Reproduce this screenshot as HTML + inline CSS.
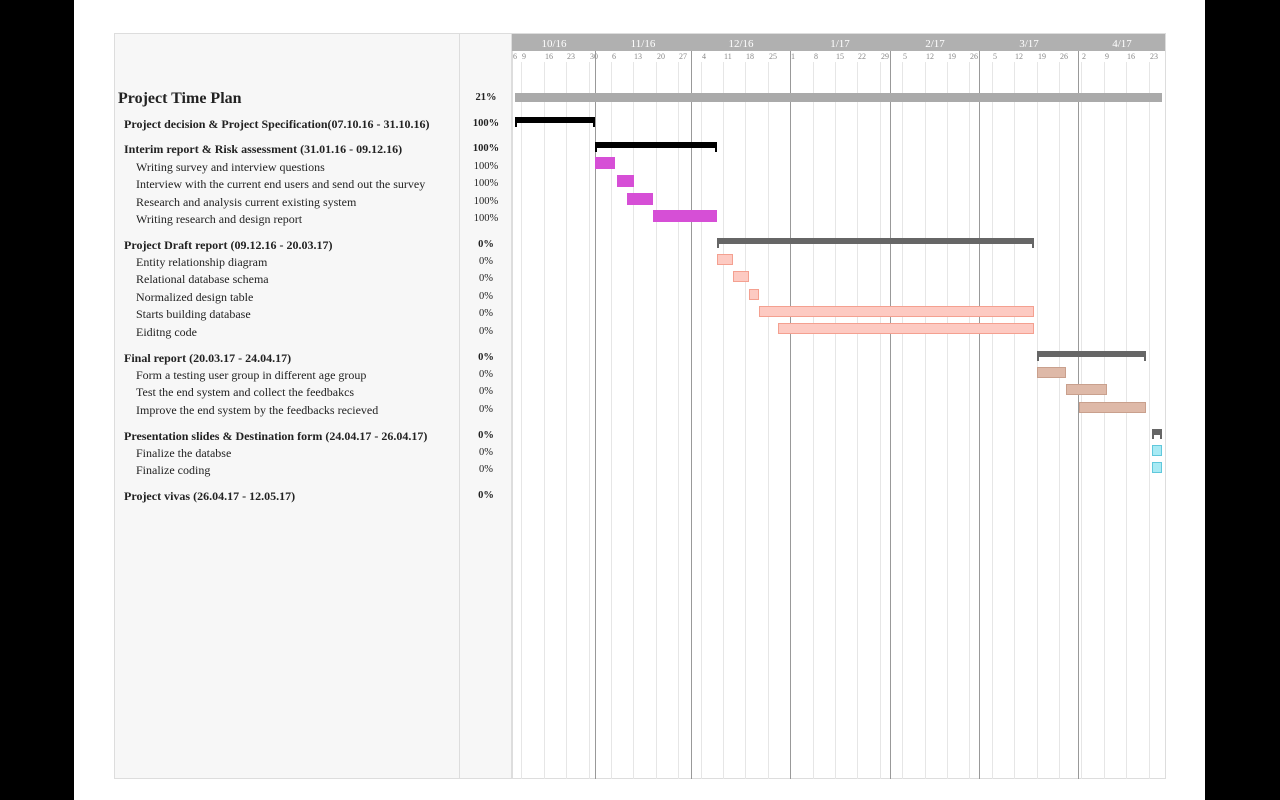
<!DOCTYPE html>
<html><head><meta charset="utf-8"><style>
body{margin:0;width:1280px;height:800px;background:#000;position:relative;overflow:hidden;font-family:"Liberation Serif",serif}
.a{position:absolute}
#wrap{left:74px;top:0;width:1131px;height:800px;background:#fff}
.t{position:absolute;white-space:nowrap;color:#222;font-size:12px}
.b{font-weight:bold}
.p{position:absolute;font-size:10.5px;color:#222;left:460px;width:52px;text-align:center}
.wk{position:absolute;top:62px;height:717px;width:1px;background:#e6e6e6}
.mo{position:absolute;top:51px;height:728px;width:1px;background:#999}
.dl{position:absolute;top:52px;font-size:8px;color:#888}
.ml{position:absolute;top:38px;font-size:11px;color:#fff;text-align:center;width:60px}
.sum{position:absolute;height:6px}
.tk{position:absolute;width:2px;height:5px}
</style></head><body>
<div id="wrap" class="a"></div>
<div class="a" style="left:114px;top:33px;width:346px;height:746px;background:#f7f7f7;border:1px solid #ddd;box-sizing:border-box"></div>
<div class="a" style="left:459px;top:33px;width:53px;height:746px;background:#f7f7f7;border:1px solid #ddd;box-sizing:border-box"></div>
<div class="a" style="left:512px;top:33px;width:654px;height:746px;background:#fff;border:1px solid #ddd;box-sizing:border-box"></div>
<div class="a" style="left:512px;top:34px;width:653px;height:17px;background:#b0b0b0"></div>
<div id="grid"></div>
<script>
var g=document.getElementById('grid'),h='';
function X(d){return 595+d*3.2;}
var labels=['9','16','23','30','6','13','20','27','4','11','18','25','1','8','15','22','29','5','12','19','26','5','12','19','26','2','9','16','23'];
for(var k=0;k<29;k++){var x=521.4+22.4*k;h+='<div class="wk" style="left:'+Math.round(x)+'px"></div><div class="dl" style="left:'+Math.round(x+1)+'px">'+labels[k]+'</div>';}
h+='<div class="dl" style="left:513px">6</div>';
var ms=[[512,'10/16',0],[595,'11/16',1],[691,'12/16',1],[790,'1/17',1],[890,'2/17',1],[979,'3/17',1],[1078,'4/17',1],[1165,'',0]];
for(var i=0;i<7;i++){var x=ms[i][0],nx=ms[i+1][0];if(ms[i][2])h+='<div class="mo" style="left:'+x+'px"></div>';h+='<div class="ml" style="left:'+Math.round((x+nx)/2-30)+'px">'+ms[i][1]+'</div>';}
g.innerHTML=h;
</script>
<!-- bars -->
<div class="a" style="left:515px;top:93px;width:647px;height:9px;background:#aaa"></div>
<div class="sum" style="left:515px;top:117px;width:80px;background:#000"></div><div class="tk" style="left:515px;top:122px;background:#000"></div><div class="tk" style="left:593px;top:122px;background:#000"></div>
<div class="sum" style="left:595px;top:142px;width:122px;background:#000"></div><div class="tk" style="left:595px;top:147px;background:#000"></div><div class="tk" style="left:715px;top:147px;background:#000"></div>
<div class="a" style="left:595px;top:157px;width:20px;height:12px;background:#d64fd6"></div>
<div class="a" style="left:617px;top:175px;width:17px;height:12px;background:#d64fd6"></div>
<div class="a" style="left:627px;top:193px;width:26px;height:12px;background:#d64fd6"></div>
<div class="a" style="left:653px;top:210px;width:64px;height:12px;background:#d64fd6"></div>
<div class="sum" style="left:717px;top:238px;width:317px;background:#666"></div><div class="tk" style="left:717px;top:243px;background:#666"></div><div class="tk" style="left:1032px;top:243px;background:#666"></div>
<div class="a" style="left:717px;top:254px;width:16px;height:11px;background:#fdcac2;border:1px solid #f4a090;box-sizing:border-box"></div>
<div class="a" style="left:733px;top:271px;width:16px;height:11px;background:#fdcac2;border:1px solid #f4a090;box-sizing:border-box"></div>
<div class="a" style="left:749px;top:289px;width:10px;height:11px;background:#fdcac2;border:1px solid #f4a090;box-sizing:border-box"></div>
<div class="a" style="left:759px;top:306px;width:275px;height:11px;background:#fdcac2;border:1px solid #f4a090;box-sizing:border-box"></div>
<div class="a" style="left:778px;top:323px;width:256px;height:11px;background:#fdcac2;border:1px solid #f4a090;box-sizing:border-box"></div>
<div class="sum" style="left:1037px;top:351px;width:109px;background:#666"></div><div class="tk" style="left:1037px;top:356px;background:#666"></div><div class="tk" style="left:1144px;top:356px;background:#666"></div>
<div class="a" style="left:1037px;top:367px;width:29px;height:11px;background:#deb9a8;border:1px solid #c9a08d;box-sizing:border-box"></div>
<div class="a" style="left:1066px;top:384px;width:41px;height:11px;background:#deb9a8;border:1px solid #c9a08d;box-sizing:border-box"></div>
<div class="a" style="left:1079px;top:402px;width:67px;height:11px;background:#deb9a8;border:1px solid #c9a08d;box-sizing:border-box"></div>
<div class="sum" style="left:1152px;top:429px;width:10px;background:#666"></div><div class="tk" style="left:1152px;top:434px;background:#666"></div><div class="tk" style="left:1160px;top:434px;background:#666"></div>
<div class="a" style="left:1152px;top:445px;width:10px;height:11px;background:#a8eaf4;border:1px solid #60c8dc;box-sizing:border-box"></div>
<div class="a" style="left:1152px;top:462px;width:10px;height:11px;background:#a8eaf4;border:1px solid #60c8dc;box-sizing:border-box"></div>
<!-- text -->
<div class="t b" style="left:118px;top:90px;font-size:16px">Project Time Plan</div><div class="p b" style="top:92px">21%</div>
<div class="t b" style="left:124px;top:117px">Project decision &amp; Project Specification(07.10.16 - 31.10.16)</div><div class="p b" style="top:118px">100%</div>
<div class="t b" style="left:124px;top:142px">Interim report &amp; Risk assessment (31.01.16 - 09.12.16)</div><div class="p b" style="top:143px">100%</div>
<div class="t" style="left:136px;top:160px">Writing survey and interview questions</div><div class="p" style="top:161px">100%</div>
<div class="t" style="left:136px;top:177px">Interview with the current end users and send out the survey</div><div class="p" style="top:178px">100%</div>
<div class="t" style="left:136px;top:195px">Research and analysis current existing system</div><div class="p" style="top:196px">100%</div>
<div class="t" style="left:136px;top:212px">Writing research and design report</div><div class="p" style="top:213px">100%</div>
<div class="t b" style="left:124px;top:238px">Project Draft report (09.12.16 - 20.03.17)</div><div class="p b" style="top:239px">0%</div>
<div class="t" style="left:136px;top:255px">Entity relationship diagram</div><div class="p" style="top:256px">0%</div>
<div class="t" style="left:136px;top:272px">Relational database schema</div><div class="p" style="top:273px">0%</div>
<div class="t" style="left:136px;top:290px">Normalized design table</div><div class="p" style="top:291px">0%</div>
<div class="t" style="left:136px;top:307px">Starts building database</div><div class="p" style="top:308px">0%</div>
<div class="t" style="left:136px;top:325px">Eiditng code</div><div class="p" style="top:326px">0%</div>
<div class="t b" style="left:124px;top:351px">Final report (20.03.17 - 24.04.17)</div><div class="p b" style="top:352px">0%</div>
<div class="t" style="left:136px;top:368px">Form a testing user group in different age group</div><div class="p" style="top:369px">0%</div>
<div class="t" style="left:136px;top:385px">Test the end system and collect the feedbakcs</div><div class="p" style="top:386px">0%</div>
<div class="t" style="left:136px;top:403px">Improve the end system by the feedbacks recieved</div><div class="p" style="top:404px">0%</div>
<div class="t b" style="left:124px;top:429px">Presentation slides &amp; Destination form (24.04.17 - 26.04.17)</div><div class="p b" style="top:430px">0%</div>
<div class="t" style="left:136px;top:446px">Finalize the databse</div><div class="p" style="top:447px">0%</div>
<div class="t" style="left:136px;top:463px">Finalize coding</div><div class="p" style="top:464px">0%</div>
<div class="t b" style="left:124px;top:489px">Project vivas (26.04.17 - 12.05.17)</div><div class="p b" style="top:490px">0%</div>
</body></html>
